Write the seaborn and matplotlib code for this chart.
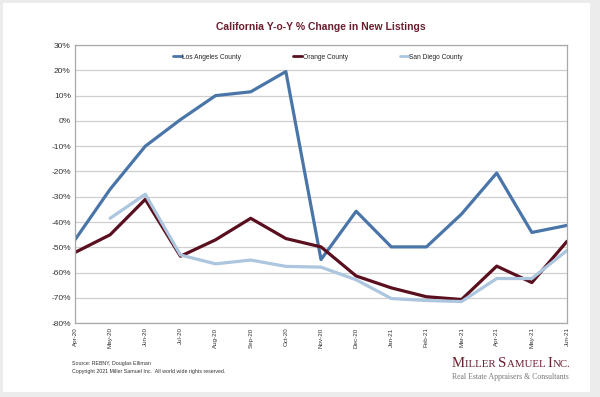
import numpy as np
import pandas as pd
import seaborn as sns
import matplotlib
matplotlib.use("Agg")
import matplotlib.pyplot as plt
from matplotlib.patches import Rectangle

months = ["Apr-20", "May-20", "Jun-20", "Jul-20", "Aug-20", "Sep-20", "Oct-20", "Nov-20",
          "Dec-20", "Jan-21", "Feb-21", "Mar-21", "Apr-21", "May-21", "Jun-21"]
la = [-47, -27, -10, 0.5, 10, 11.5, 19.5, -54.8, -35.7, -49.8, -49.8, -36.8, -20.6, -44.1, -41.3]
orange = [-52, -45, -31, -53.5, -47, -38.5, -46.5, -49.8, -61.3, -66, -69.5, -70.6, -57.4, -63.9, -47.6]
sandiego = [np.nan, -38.5, -29, -53, -56.5, -55, -57.5, -57.8, -62.8, -70.2, -71, -71.4, -62.3, -62.3, -51.2]
series_names = ["Los Angeles County", "Orange County", "San Diego County"]
colors = ["#4a75a8", "#5a0f1f", "#abc6de"]
yticks = list(range(-80, 31, 10))

df = pd.DataFrame({"month": months, series_names[0]: la, series_names[1]: orange,
                   series_names[2]: sandiego})
df["x"] = np.arange(len(months))
long = df.melt(id_vars=["month", "x"], var_name="series", value_name="value")

sns.set_style("white")
plt.rcParams["font.family"] = ["Liberation Sans", "DejaVu Sans"]

fig = plt.figure(figsize=(6, 3.97), dpi=100)
fig.patch.set_facecolor("#ececec")
fig.patches.append(Rectangle((3 / 600, 1 - 392 / 397), 587 / 600, 389 / 397,
                             transform=fig.transFigure, facecolor="white",
                             edgecolor="none", zorder=0))

ax = fig.add_axes([75 / 600, 1 - 323.3 / 397, 492 / 600, (323.3 - 45) / 397])
ax.set_facecolor("white")
ax.set_zorder(1)

sns.lineplot(data=long, x="x", y="value", hue="series", hue_order=series_names,
             palette=colors, linewidth=2.3, ax=ax, legend=True)

ax.set_xlim(0, len(months) - 1)
ax.set_ylim(-80, 30)
ax.set_yticks(yticks)
ax.set_yticklabels([f"{v}%" for v in yticks], fontsize=6, color="#333333")
ax.set_xticks(np.arange(len(months)))
ax.set_xticklabels(months, rotation=90, fontsize=4.5, color="#333333")
ax.tick_params(axis="both", length=0, pad=3)
ax.yaxis.grid(True, color="#cfcfcf", linewidth=0.9)
ax.set_axisbelow(True)
for s in ax.spines.values():
    s.set_color("#a8a8a8")
    s.set_linewidth(0.9)
ax.set_xlabel("")
ax.set_ylabel("")

leg = ax.legend(loc="upper center", bbox_to_anchor=(0.494, 0.99), ncol=3, frameon=False,
                fontsize=4.8, handlelength=1.35, handletextpad=0.05, columnspacing=7.8)
for h in leg.get_lines():
    h.set_linewidth(2.0)

fig.text(321 / 600, 1 - 27 / 397, "California Y-o-Y % Change in New Listings",
         ha="center", va="center", fontsize=7.5, fontweight="bold", color="#6b1e2e")

fig.text(72 / 600, 1 - 363 / 397, "Source: REBNY, Douglas Elliman", fontsize=3.8,
         color="#333333", va="center")
fig.text(72 / 600, 1 - 372 / 397, "Copyright 2021 Miller Samuel Inc.  All world wide rights reserved.",
         fontsize=3.8, color="#333333", va="center")

# small caps logo
renderer = fig.canvas.get_renderer()
pieces = [("M", 10.6), ("ILLER ", 7.8), ("S", 10.6), ("AMUEL ", 7.8), ("I", 10.6), ("NC.", 7.8)]
xpos = 452
for txt, size in pieces:
    t = fig.text(xpos / 600, 1 - 367 / 397, txt, fontsize=size, family="Liberation Serif",
                 color="#6b1e2e", va="baseline", ha="left")
    bb = t.get_window_extent(renderer)
    xpos += bb.width
fig.text(452 / 600, 1 - 379 / 397, "Real Estate Appraisers & Consultants", fontsize=5.6,
         family="Liberation Serif", color="#777777", va="baseline", ha="left")

fig.savefig("out.png", dpi=100, facecolor=fig.get_facecolor())
